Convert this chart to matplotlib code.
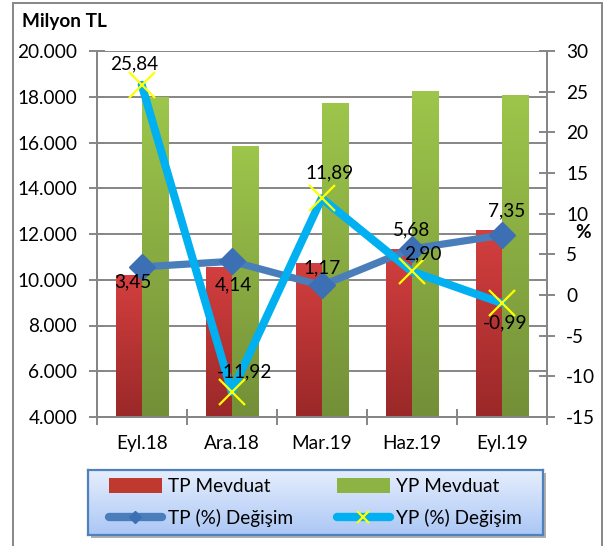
import numpy as np
import matplotlib
matplotlib.use("Agg")
import matplotlib.pyplot as plt
from matplotlib.colors import LinearSegmentedColormap
from matplotlib.patches import Rectangle
from matplotlib.lines import Line2D
from matplotlib.patches import Patch

plt.rcParams['font.family'] = ['Lato', 'DejaVu Sans']

# Data
categories = ["Eyl.18", "Ara.18", "Mar.19", "Haz.19", "Eyl.19"]
tp_deposits = [10200, 10570, 10750, 11350, 12180]      # milyon TL
yp_deposits = [17980, 15850, 17740, 18250, 18080]      # milyon TL
tp_change = [3.45, 4.14, 1.17, 5.68, 7.35]             # %
yp_change = [25.84, -11.92, 11.89, 2.90, -0.99]        # %
left_ticks = [4000, 6000, 8000, 10000, 12000, 14000, 16000, 18000, 20000]
right_ticks = [-15, -10, -5, 0, 5, 10, 15, 20, 25, 30]

# label offsets (pixels) for the percentage annotations
tp_offsets = [(-9, -15), (2, -24), (0, 18), (0, 19), (5, 24)]
yp_offsets = [(-8, 21), (13, 20), (8, 25), (11, 18), (3, -20)]

W, H = 604, 546
fig = plt.figure(figsize=(W / 100, H / 100), dpi=100)

GRAY = "#868686"
FS = 13.7

# outer frame
fig.patches.append(Rectangle((13 / W, -0.02), (602 - 13) / W, 1 - 3 / H + 0.02,
                             transform=fig.transFigure, fill=False,
                             edgecolor=GRAY, lw=1.4, zorder=0))

ax = fig.add_axes([96.7 / W, 1 - 417 / H, 450 / W, 366 / H])
ax2 = ax.twinx()

x = np.arange(len(categories))
bw = 0.29

red_cmap = LinearSegmentedColormap.from_list("r", ["#9a2828", "#d43f3f"])
green_cmap = LinearSegmentedColormap.from_list("g", ["#738f38", "#9dc64b"])

tp_bars = ax.bar(x - bw / 2, tp_deposits, bw, color="#c0392f", zorder=2)
yp_bars = ax.bar(x + bw / 2, yp_deposits, bw, color="#8cb445", zorder=2)

grad = np.linspace(0, 1, 256).reshape(-1, 1)
for bars, cmap in ((tp_bars, red_cmap), (yp_bars, green_cmap)):
    for b in bars:
        x0, y0 = b.get_x(), 4000
        x1, y1 = x0 + b.get_width(), b.get_height()
        im = ax.imshow(grad, extent=[x0, x1, y0, y1], origin="lower",
                       aspect="auto", cmap=cmap, zorder=2.1)
        im.set_clip_path(b)

ax.set_xlim(-0.5, len(categories) - 0.5)
ax.set_ylim(4000, 20000)
ax.set_yticks(left_ticks)
ax.set_yticklabels([f"{v:,}".replace(",", ".") for v in left_ticks], fontsize=FS)
ax.yaxis.grid(True, color=GRAY, lw=1.4)
ax.set_axisbelow(True)
ax.set_xticks(np.arange(-0.5, len(categories), 1.0), minor=False)
ax.set_xticklabels([])
ax.set_xticks(x, minor=True)
ax.set_xticklabels(categories, minor=True, fontsize=FS)
ax.tick_params(axis="x", which="major", direction="inout", length=12,
               color=GRAY, width=1.4)
ax.tick_params(axis="x", which="minor", length=0, pad=13)
ax.tick_params(axis="y", direction="inout", length=12, color=GRAY,
               width=1.4, pad=8)

# percentage series
ax2.plot(x, tp_change, color="#4a7ebb", lw=5.2, solid_joinstyle="round",
         solid_capstyle="round", marker="D", markersize=13.5,
         markerfacecolor="#3d6fb4", markeredgecolor="#3d6fb4", zorder=3)
ax2.plot(x, yp_change, color="#00b0f0", lw=5.8, solid_joinstyle="round",
         solid_capstyle="round", zorder=4)
ax2.plot(x, yp_change, ls="none", marker="x", markersize=19,
         markeredgecolor="#ffff00", markeredgewidth=1.6, zorder=5)
ax2.set_ylim(-15, 30)
ax2.set_yticks(right_ticks)
ax2.set_yticklabels([str(v) for v in right_ticks], fontsize=FS)
ax2.tick_params(axis="y", direction="inout", length=12, color=GRAY,
                width=1.4, pad=8)

for vals, offs in ((tp_change, tp_offsets), (yp_change, yp_offsets)):
    for xi, v, (dx, dy) in zip(x, vals, offs):
        ax2.annotate(f"{v:.2f}".replace(".", ","), (xi, v),
                     xytext=(dx, dy), textcoords="offset pixels",
                     ha="center", va="center", fontsize=FS, zorder=6)

for a in (ax, ax2):
    a.spines["top"].set_visible(False)
    for s in ("left", "right", "bottom"):
        a.spines[s].set_color(GRAY)
        a.spines[s].set_linewidth(1.4)

fig.text(22 / W, 1 - 22 / H, "Milyon TL", fontsize=FS, fontweight="bold",
         ha="left", va="center")
fig.text(583 / W, 1 - 233 / H, "%", fontsize=FS, fontweight="bold",
         ha="center", va="center")

# legend box with vertical gradient
lx0, ly0, lx1, ly1 = 87.7, 470, 542.7, 535
shadow = Rectangle(((lx0 + 3) / W, 1 - (ly1 + 3) / H), (lx1 - lx0) / W,
                   (ly1 - ly0) / H, transform=fig.transFigure,
                   facecolor="#b0b0b0", edgecolor="none", zorder=1)
fig.patches.append(shadow)
lax = fig.add_axes([lx0 / W, 1 - ly1 / H, (lx1 - lx0) / W, (ly1 - ly0) / H],
                   zorder=2)
lcmap = LinearSegmentedColormap.from_list("l", ["#abc7f5", "#e6eefd"])
lax.imshow(grad, extent=[0, 1, 0, 1], origin="lower", aspect="auto",
           cmap=lcmap)
lax.set_xlim(0, 1)
lax.set_ylim(0, 1)
lax.set_xticks([])
lax.set_yticks([])
for s in lax.spines.values():
    s.set_color("#4f81bd")
    s.set_linewidth(1.6)

handles = [
    Patch(facecolor="#c0392f"),
    Line2D([], [], color="#4a7ebb", lw=6, solid_capstyle="round",
           marker="D", markersize=6, markerfacecolor="#3d6fb4",
           markeredgecolor="#3d6fb4"),
    Patch(facecolor="#8cb445"),
    Line2D([], [], color="#00b0f0", lw=6, solid_capstyle="round",
           marker="x", markersize=9, markeredgecolor="#ffff00",
           markeredgewidth=1.6),
]
labels = ["TP Mevduat", "TP (%) Değişim", "YP Mevduat", "YP (%) Değişim"]
lax.legend(handles, labels, ncol=2, loc="center", frameon=False,
           fontsize=FS, handlelength=2.8, handleheight=0.85,
           handletextpad=0.3, columnspacing=2.3, labelspacing=0.75,
           bbox_to_anchor=(0.50, 0.5))

fig.savefig("out.png", dpi=100)
